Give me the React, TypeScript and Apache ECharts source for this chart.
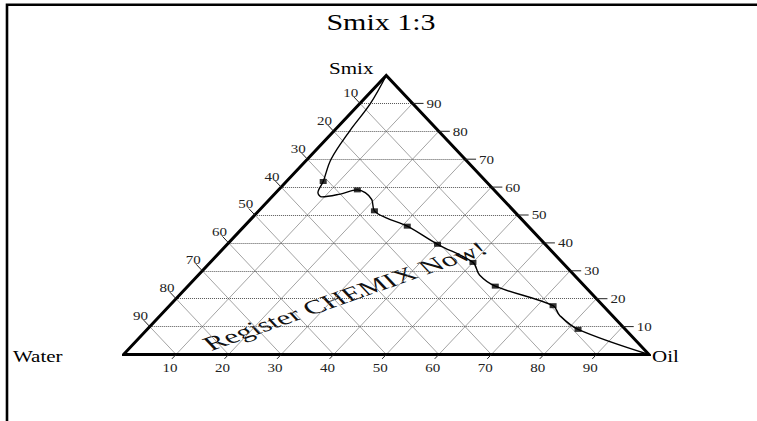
import React, { useEffect, useRef } from "react";
import * as echarts from "echarts";

const TITLE = "Smix 1:3";
const TOP_LABEL = "Smix";
const LEFT_LABEL = "Water";
const RIGHT_LABEL = "Oil";
const WATERMARK = "Register CHEMIX Now!";
const TICKS = [10, 20, 30, 40, 50, 60, 70, 80, 90];

// measured compositions (percent) of the marked points
const pointSmix = [62, 59, 51.5, 46, 39.5, 33, 24.5, 17.5, 9];
const pointOil = [7, 15, 22, 31, 40, 50, 58.5, 73, 82];
const pointWater = [31, 26, 26.5, 23, 20.5, 17, 17, 9.5, 9];

// boundary curve (percent)
const curveSmix = [100, 90, 80, 70, 62, 58, 56.5, 57.5, 59, 58, 55.5, 51.5, 49, 46, 39.5, 33, 28.5, 24.5, 17.5, 14, 9, 0];
const curveOil = [0, 2, 3, 4.5, 7, 8, 9.5, 12.5, 15, 17, 19.5, 22, 25.5, 31, 40, 50, 53.5, 58.5, 73, 76, 82, 100];

const SERIF = "'Liberation Serif', 'Times New Roman', serif";
const SQ = 0.613;
const TXT_SQ = 0.8;

export default function App() {
  const ref = useRef<HTMLDivElement>(null);
  useEffect(() => {
    const chart = echarts.init(ref.current!, null, { renderer: "svg" });
    const xy = (smix: number, oil: number) => [oil + smix / 2, smix];
    const seg = (a: number[], b: number[]) => ({ coords: [a, b] });
    const hLines = TICKS.map((s) => seg(xy(s, 0), xy(s, 100 - s)));
    const oilLines = TICKS.map((o) => seg(xy(0, o), xy(100 - o, o)));
    const waterLines = TICKS.map((w) => seg(xy(0, 100 - w), xy(100 - w, 0)));

    chart.setOption({
      animation: false,
      backgroundColor: "#fff",
      grid: { left: 123.5, top: 75.5, width: 525.5, height: 279 },
      xAxis: { type: "value", min: 0, max: 100, show: false },
      yAxis: { type: "value", min: 0, max: 100, show: false },
      series: [
        {
          type: "lines",
          coordinateSystem: "cartesian2d",
          data: [...oilLines, ...waterLines],
          lineStyle: { color: "#8c8c8c", width: 0.8, opacity: 1 },
          silent: true,
          z: 1,
        },
        {
          type: "lines",
          coordinateSystem: "cartesian2d",
          data: hLines,
          lineStyle: { color: "#555", width: 1, type: "dotted", opacity: 1 },
          silent: true,
          z: 2,
        },
        {
          type: "line",
          data: [xy(0, 0), xy(0, 100), xy(100, 0), xy(0, 0), xy(0, 100)],
          symbol: "none",
          lineStyle: { color: "#000", width: 3, join: "miter" },
          clip: false,
          silent: true,
          z: 3,
        },
        {
          type: "line",
          data: curveSmix.map((s, i) => xy(s, curveOil[i])),
          smooth: 0.35,
          symbol: "none",
          lineStyle: { color: "#000", width: 1.4 },
          clip: false,
          silent: true,
          z: 4,
        },
        {
          type: "scatter",
          data: pointSmix.map((s, i) => xy(s, pointOil[i])),
          symbol: "rect",
          symbolSize: [7, 5],
          itemStyle: { color: "#000" },
          clip: false,
          silent: true,
          z: 5,
        },
      ],
    });

    const px = (p: number[]) => chart.convertToPixel({ gridIndex: 0 }, p) as number[];
    const txt = (x: number, y: number, text: string, size: number, align: string, vAlign: string, color = "#000", sq = TXT_SQ) => ({
      type: "text",
      x,
      y,
      scaleY: sq,
      silent: true,
      z: 10,
      style: {
        text,
        fontSize: size,
        fontFamily: SERIF,
        fill: color,
        textAlign: align,
        textVerticalAlign: vAlign,
        align,
        verticalAlign: vAlign,
      },
    });
    const line = (a: number[], b: number[]) => ({
      type: "line",
      silent: true,
      z: 9,
      shape: { x1: a[0], y1: a[1], x2: b[0], y2: b[1] },
      style: { stroke: "#222", lineWidth: 1 },
    });
    const norm = (v: number[]) => {
      const l = Math.hypot(v[0], v[1]);
      return [v[0] / l, v[1] / l];
    };

    const g: any[] = [];
    g.push({
      type: "polyline",
      silent: true,
      shape: { points: [[7, 421], [7, 4.8], [757, 4.8]] },
      style: { stroke: "#000", lineWidth: 2.6, fill: "none" },
    });

    TICKS.forEach((s) => {
      // right edge: Smix
      const p = px(xy(s, 100 - s));
      g.push(line(p, [p[0] + 11, p[1]]));
      g.push(txt(p[0] + 14, p[1] + 0.5, String(s), 15, "left", "middle", "#222"));
    });
    TICKS.forEach((w) => {
      // left edge: Water
      const p = px(xy(100 - w, 0));
      const q = px(xy(0, 100 - w));
      const d = norm([p[0] - q[0], p[1] - q[1]]);
      const e = [p[0] + d[0] * 9, p[1] + d[1] * 9];
      g.push(line(p, e));
      g.push(txt(e[0] - 3, e[1] - 4, String(w), 15, "center", "middle", "#222"));
    });
    TICKS.forEach((o) => {
      // bottom edge: Oil
      const p = px(xy(0, o));
      const q = px(xy(100 - o, o));
      const d = norm([p[0] - q[0], p[1] - q[1]]);
      const e = [p[0] + d[0] * 6, p[1] + d[1] * 6];
      g.push(line(p, e));
      g.push(txt(e[0] - 2, e[1] + 9, String(o), 15, "center", "middle", "#222"));
    });

    const top = px(xy(100, 0));
    const left = px(xy(0, 0));
    const right = px(xy(0, 100));
    g.push(txt(top[0] - 35, top[1] - 7, TOP_LABEL, 21, "center", "middle"));
    g.push(txt(13, left[1] + 1.5, LEFT_LABEL, 21, "left", "middle"));
    g.push(txt(right[0] + 3, right[1] + 1.5, RIGHT_LABEL, 21, "left", "middle"));
    g.push(txt(381, 22, TITLE, 30, "center", "middle", "#000", 0.75));

    g.push({
      type: "group",
      x: 345,
      y: 296,
      scaleY: SQ,
      silent: true,
      z: 8,
      children: [
        {
          type: "text",
          rotation: Math.PI / 6,
          silent: true,
          style: {
            text: WATERMARK,
            fontSize: 32,
            fontFamily: SERIF,
            fill: "#111",
            textAlign: "center",
            textVerticalAlign: "middle",
            align: "center",
            verticalAlign: "middle",
          },
        },
      ],
    });

    chart.setOption({ graphic: { elements: g } });
    return () => chart.dispose();
  }, []);

  return (
    <div
      ref={ref}
      style={{ position: "fixed", left: 0, top: 0, width: 757, height: 421, background: "#fff" }}
    />
  );
}
